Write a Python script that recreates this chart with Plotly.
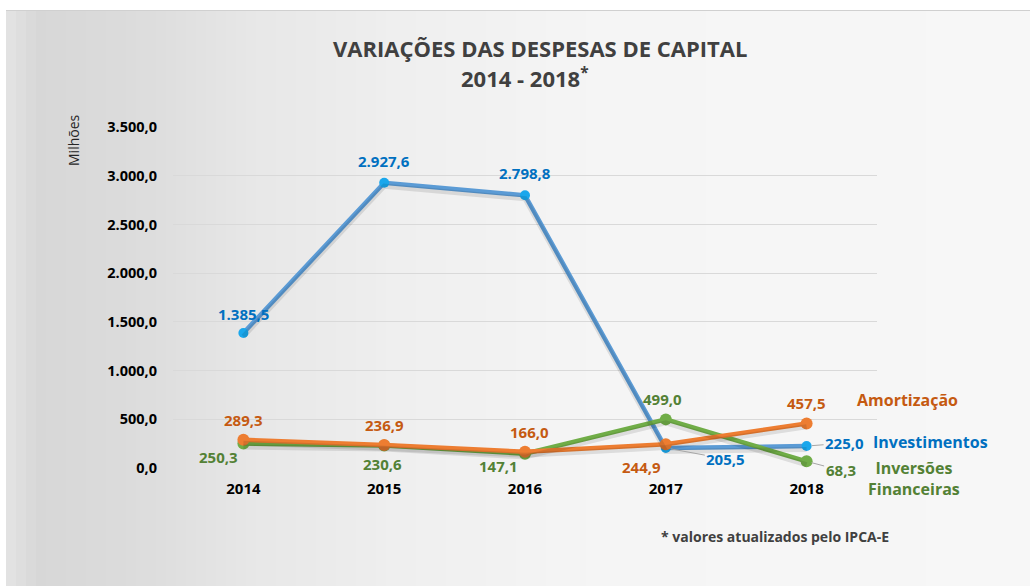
import plotly.graph_objects as go

years = ["2014", "2015", "2016", "2017", "2018"]
investimentos = [1385.5, 2927.6, 2798.8, 205.5, 225.0]
amortizacao = [289.3, 236.9, 166.0, 244.9, 457.5]
inversoes = [250.3, 230.6, 147.1, 499.0, 68.3]
y_ticks = [0, 500, 1000, 1500, 2000, 2500, 3000, 3500]
y_tick_labels = ["0,0", "500,0", "1.000,0", "1.500,0", "2.000,0", "2.500,0", "3.000,0", "3.500,0"]


def fmt(v):
    s = f"{v:,.1f}"
    return s.replace(",", "X").replace(".", ",").replace("X", ".")


FONT = "Open Sans"
BLUE_LINE, BLUE_MK, BLUE_TXT = "#5B9BD5", "#1AA7EC", "#0070C0"
ORANGE_LINE, ORANGE_TXT = "#ED7D31", "#C55A11"
GREEN_LINE, GREEN_TXT = "#70AD47", "#538135"

W, H = 1030, 586
ml, mr, mt, mb = 173, 153, 127, 118
pw, ph = W - ml - mr, H - mt - mb


def px_x(p):
    return (p - ml) / pw


def px_y(p):
    return (H - mb - p) / ph


fig = go.Figure()

# subtle shadows
for ys in (investimentos, inversoes, amortizacao):
    fig.add_trace(go.Scatter(x=years, y=ys, mode="lines", line=dict(color="rgba(0,0,0,0.10)", width=5),
                             hoverinfo="skip", showlegend=False, yaxis="y2"))

fig.add_trace(go.Scatter(x=years, y=investimentos, mode="lines+markers", name="Investimentos",
                         line=dict(color=BLUE_LINE, width=4.5),
                         marker=dict(color=BLUE_MK, size=10, line=dict(width=0))))
fig.add_trace(go.Scatter(x=years, y=inversoes, mode="lines+markers", name="Inversões Financeiras",
                         line=dict(color=GREEN_LINE, width=4.5),
                         marker=dict(color=GREEN_LINE, size=12, line=dict(width=0))))
fig.add_trace(go.Scatter(x=years, y=amortizacao, mode="lines+markers", name="Amortização",
                         line=dict(color=ORANGE_LINE, width=4.5),
                         marker=dict(color=ORANGE_LINE, size=12, line=dict(width=0))))

# background: white outer, gray panel with horizontal gradient (darker toward left)
shapes = [dict(type="rect", xref="paper", yref="paper", layer="below",
               x0=px_x(0), x1=px_x(W), y0=px_y(H), y1=px_y(0), line=dict(width=0), fillcolor="#FFFFFF")]
stops = [(6, 228), (40, 215), (150, 221), (250, 231), (400, 239), (600, 245), (1030, 247)]
step = 10
xx = 6
while xx < 1030:
    xm = xx + step / 2
    for (a, va), (b, vb) in zip(stops[:-1], stops[1:]):
        if a <= xm <= b:
            v = int(round(va + (vb - va) * (xm - a) / (b - a)))
            break
    shapes.append(dict(type="rect", xref="paper", yref="paper", layer="below",
                       x0=px_x(xx), x1=px_x(min(xx + step + 1, 1030)), y0=px_y(586), y1=px_y(11),
                       line=dict(width=0), fillcolor=f"rgb({v},{v},{v})"))
    xx += step
shapes.append(dict(type="line", xref="paper", yref="paper", layer="below",
                   x0=px_x(6), x1=px_x(1030), y0=px_y(10.5), y1=px_y(10.5), line=dict(color="#D0D0D0", width=1)))
fig.update_layout(shapes=shapes)

ann = []


def lab(i, y, text, color, xs, ys, ax=None, ay=None):
    d = dict(x=i, y=y, text=f"<b>{text}</b>", xref="x", yref="y", showarrow=False,
             xanchor="center", yanchor="middle",
             font=dict(family=FONT, size=15, color=color), xshift=xs, yshift=ys)
    if ax is not None:
        d.update(showarrow=True, arrowhead=0, arrowcolor="#A6A6A6", arrowwidth=1,
                 ax=ax, ay=ay, standoff=5, xshift=0, yshift=0)
    ann.append(d)


# Investimentos labels
lab(0, investimentos[0], fmt(investimentos[0]), BLUE_TXT, 0, 19)
lab(1, investimentos[1], fmt(investimentos[1]), BLUE_TXT, 0, 22)
lab(2, investimentos[2], fmt(investimentos[2]), BLUE_TXT, 0, 22)
lab(3, investimentos[3], fmt(investimentos[3]), BLUE_TXT, 0, 0, ax=60, ay=11)
lab(4, investimentos[4], fmt(investimentos[4]), BLUE_TXT, 0, 0, ax=38, ay=-3)

# Amortização labels
lab(0, amortizacao[0], fmt(amortizacao[0]), ORANGE_TXT, 0, 20)
lab(1, amortizacao[1], fmt(amortizacao[1]), ORANGE_TXT, 0, 20)
lab(2, amortizacao[2], fmt(amortizacao[2]), ORANGE_TXT, 4, 20)
lab(3, amortizacao[3], fmt(amortizacao[3]), ORANGE_TXT, -24, -23)
lab(4, amortizacao[4], fmt(amortizacao[4]), ORANGE_TXT, 0, 20)

# Inversões labels
lab(0, inversoes[0], fmt(inversoes[0]), GREEN_TXT, -25, -13)
lab(1, inversoes[1], fmt(inversoes[1]), GREEN_TXT, -2, -18)
lab(2, inversoes[2], fmt(inversoes[2]), GREEN_TXT, -27, -12)
lab(3, inversoes[3], fmt(inversoes[3]), GREEN_TXT, -3, 20)
lab(4, inversoes[4], fmt(inversoes[4]), GREEN_TXT, 0, 0, ax=34, ay=9)

# series names
ann.append(dict(x=4, y=amortizacao[4], xref="x", yref="y", text="<b>Amortização</b>", showarrow=False,
                xanchor="center", yanchor="middle", xshift=101, yshift=23,
                font=dict(family=FONT, size=16, color=ORANGE_TXT)))
ann.append(dict(x=4, y=investimentos[4], xref="x", yref="y", text="<b>Investimentos</b>", showarrow=False,
                xanchor="center", yanchor="middle", xshift=124, yshift=4,
                font=dict(family=FONT, size=16, color=BLUE_TXT)))
ann.append(dict(x=4, y=inversoes[4], xref="x", yref="y", text="<b>Inversões</b><br><b>Financeiras</b>",
                showarrow=False, xanchor="center", yanchor="middle", xshift=107, yshift=-17, align="center",
                font=dict(family=FONT, size=16, color=GREEN_TXT)))

# title, axis title, footnote
ann.append(dict(x=px_x(540), y=px_y(48), xref="paper", yref="paper", xanchor="center", yanchor="middle",
                text="<b>VARIAÇÕES DAS DESPESAS DE CAPITAL</b>",
                showarrow=False, font=dict(family=FONT, size=22, color="#404040")))
ann.append(dict(x=px_x(525), y=px_y(78), xref="paper", yref="paper", xanchor="center", yanchor="middle",
                text="<b>2014 - 2018<sup>*</sup></b>",
                showarrow=False, font=dict(family=FONT, size=22, color="#404040")))
ann.append(dict(text="Milhões", xref="paper", yref="paper", x=px_x(73), y=px_y(140), textangle=-90,
                xanchor="center", yanchor="middle",
                showarrow=False, font=dict(family=FONT, size=14, color="#262626")))
ann.append(dict(text="<b>* valores atualizados pelo IPCA-E</b>", xref="paper", yref="paper",
                x=px_x(775), y=px_y(536), xanchor="center", yanchor="middle", showarrow=False,
                font=dict(family=FONT, size=14, color="#404040")))

fig.update_layout(
    annotations=ann,
    width=W, height=H,
    margin=dict(l=ml, r=mr, t=mt, b=mb),
    paper_bgcolor="#FFFFFF",
    plot_bgcolor="rgba(0,0,0,0)",
    showlegend=False,
    font=dict(family=FONT),
    xaxis=dict(type="category", range=[-0.5, 4.5], showgrid=False, showline=False, zeroline=False,
               tickfont=dict(family=FONT, size=15, color="#000000", weight="bold"), ticks="", ticklen=0,
               ticklabelstandoff=10),
    yaxis=dict(range=[0, 3500], tickvals=y_ticks, ticktext=y_tick_labels, showgrid=True,
               gridcolor="#D9D9D9", gridwidth=1, zeroline=False, showline=False,
               tickfont=dict(family=FONT, size=14.5, color="#000000", weight="bold"), ticks="",
               ticklabelstandoff=15),
    yaxis2=dict(range=[35, 3535], overlaying="y", visible=False),
)

fig.write_html("out.html", config={"displayModeBar": False},
               post_script="document.body.style.margin='0';document.body.style.padding='0';")
